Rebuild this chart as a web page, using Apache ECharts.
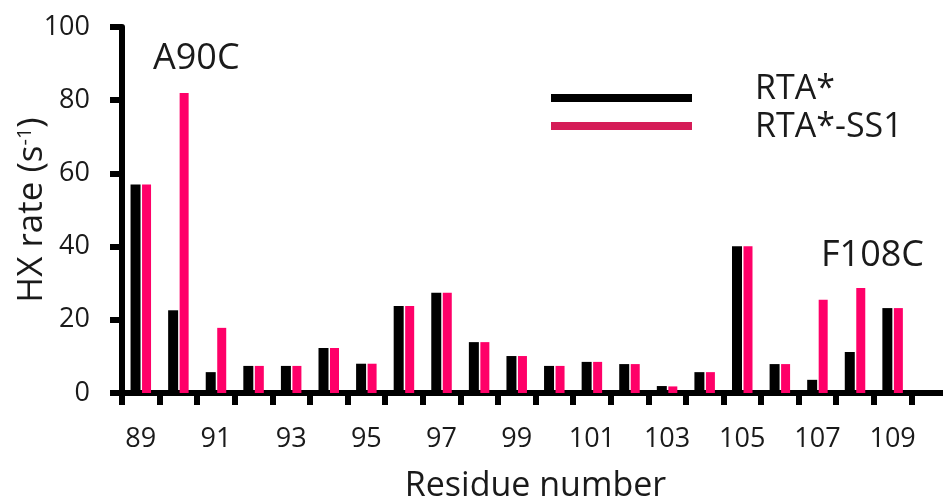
<!DOCTYPE html>
<html>
<head>
<meta charset="utf-8">
<script src="https://cdn.jsdelivr.net/npm/echarts@6/dist/echarts.min.js"></script>
<style>
  html, body { margin: 0; padding: 0; background: #fff; }
  #chart { width: 943px; height: 499px; }
</style>
</head>
<body>
<div id="chart"></div>
<script>
// Residue numbers along the x axis
const residues = ['89','90','91','92','93','94','95','96','97','98','99',
                  '100','101','102','103','104','105','106','107','108','109'];
// HX rates (s^-1)
const rtaRates = [57.0, 22.6, 5.7, 7.4, 7.4, 12.3, 8.0, 23.8, 27.4, 13.9, 10.1,
                  7.4, 8.5, 7.9, 1.9, 5.7, 40.1, 7.9, 3.6, 11.2, 23.2];
const rtaSs1Rates = [57.0, 82.0, 17.8, 7.4, 7.4, 12.3, 8.0, 23.8, 27.4, 13.9, 10.1,
                     7.4, 8.5, 7.9, 1.8, 5.7, 40.1, 7.9, 25.5, 28.7, 23.2];
const yTicks = { min: 0, max: 100, interval: 20 };
const seriesNames = ['RTA*', 'RTA*-SS1'];

const FONT = '"Open Sans", sans-serif';
const TEXT = '#1a1a1a';
const BLACK = '#000000';
const PINK = '#ff0068';
const LEGEND_PINK = '#d51c57';

// one empty slot at the end keeps the axis running to the right edge
const xCategories = residues.concat(['']);

// legend swatches are long bars; their names are set a little apart as text
function legendRow(name, color, top) {
  return {
    orient: 'vertical',
    left: 551,
    top: top,
    padding: 0,
    itemWidth: 141,
    itemHeight: 8,
    icon: 'rect',
    selectedMode: false,
    formatter: () => '',
    data: [{ name: name, itemStyle: { color: color } }]
  };
}

const chart = echarts.init(document.getElementById('chart'), null, { renderer: 'canvas' });
chart.setOption({
  backgroundColor: '#ffffff',
  animation: false,
  grid: { left: 122, top: 27, width: 827, height: 366, containLabel: false, outerBoundsMode: 'none' },
  legend: [
    legendRow(seriesNames[0], BLACK, 94),
    legendRow(seriesNames[1], LEGEND_PINK, 122)
  ],
  xAxis: {
    type: 'category',
    data: xCategories,
    boundaryGap: true,
    name: 'Residue number',
    nameLocation: 'middle',
    nameGap: 76,
    nameMoveOverlap: false,
    nameTextStyle: { fontFamily: FONT, fontSize: 34, color: TEXT },
    axisLine: { lineStyle: { color: BLACK, width: 6 } },
    axisTick: { show: true, interval: 0, length: 12, lineStyle: { color: BLACK, width: 6 } },
    axisLabel: { interval: 1, margin: 33, fontFamily: FONT, fontSize: 27, color: TEXT },
    splitLine: { show: false }
  },
  yAxis: {
    type: 'value',
    min: yTicks.min,
    max: yTicks.max,
    interval: yTicks.interval,
    name: 'HX rate (s{sup|-1})',
    nameLocation: 'middle',
    nameGap: 72,
    nameMoveOverlap: false,
    nameRotate: 90,
    nameTextStyle: {
      fontFamily: FONT, fontSize: 35, color: TEXT,
      rich: { sup: { fontFamily: FONT, fontSize: 20, color: TEXT, verticalAlign: 'top', padding: [0, 0, 14, 0] } }
    },
    axisLine: { show: true, lineStyle: { color: BLACK, width: 6 } },
    axisTick: { show: true, length: 12, lineStyle: { color: BLACK, width: 6 } },
    axisLabel: { margin: 32, fontFamily: FONT, fontSize: 27, color: TEXT },
    splitLine: { show: false }
  },
  series: [
    {
      name: seriesNames[0],
      type: 'bar',
      data: rtaRates,
      barWidth: 10,
      barGap: '15%',
      itemStyle: { color: BLACK },
      z: 1
    },
    {
      name: seriesNames[1],
      type: 'bar',
      data: rtaSs1Rates,
      barWidth: 9,
      itemStyle: { color: PINK },
      z: 1
    }
  ],
  graphic: [
    { type: 'text', left: 755, top: 72, style: { text: seriesNames[0], font: '34px ' + FONT, fill: TEXT } },
    { type: 'text', left: 755, top: 110, style: { text: seriesNames[1], font: '34px ' + FONT, fill: TEXT } },
    { type: 'text', left: 153, top: 41, style: { text: 'A90C', font: '36px ' + FONT, fill: TEXT } },
    { type: 'text', left: 821, top: 238, style: { text: 'F108C', font: '36px ' + FONT, fill: TEXT } }
  ]
});
</script>
</body>
</html>
